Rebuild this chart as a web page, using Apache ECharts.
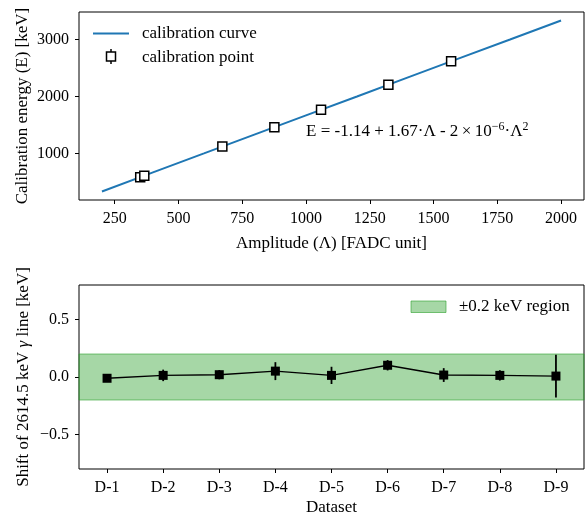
<!DOCTYPE html>
<html>
<head>
<meta charset="utf-8">
<script src="https://cdn.jsdelivr.net/npm/echarts@6/dist/echarts.min.js"></script>
<style>html,body{margin:0;padding:0;background:#fff}#c{width:585px;height:517px}</style>
</head>
<body>
<div id="c"></div>
<script>
// ---- Top panel data ----
var curveX = [200, 400, 600, 800, 1000, 1200, 1400, 1600, 1800, 2000];
var curveY = [333, 667, 1000, 1334, 1667, 1999, 2333, 2666, 2997, 3331];
var pointX = [350, 366, 672, 876, 1059, 1323, 1569];
var pointY = [583, 609, 1120, 1461, 1764, 2204, 2615];
var topXTicks = [250, 500, 750, 1000, 1250, 1500, 1750, 2000];
var topYTicks = [1000, 2000, 3000];
// ---- Bottom panel data ----
var datasets = ['D-1', 'D-2', 'D-3', 'D-4', 'D-5', 'D-6', 'D-7', 'D-8', 'D-9'];
var shiftVals = [-0.011, 0.014, 0.02, 0.051, 0.014, 0.102, 0.017, 0.014, 0.008];
var shiftErr = [0.03, 0.05, 0.04, 0.078, 0.075, 0.045, 0.06, 0.045, 0.186];
var bandLow = -0.2, bandHigh = 0.2;
var botYTicks = [-0.5, 0, 0.5];

var FONT = 'Liberation Serif';
var FS = 16;   // tick labels
var FL = 17;   // axis names, legends

var chart = echarts.init(document.getElementById('c'), null, {renderer: 'canvas'});

function pairs(xs, ys) { return xs.map(function (x, i) { return [x, ys[i]]; }); }
var shiftPts = shiftVals.map(function (v, i) { return [i + 1, v]; });
var shiftErrData = shiftVals.map(function (v, i) { return [i + 1, v - shiftErr[i], v + shiftErr[i]]; });

function fmtMinus(v) {
  var s = Number(v).toFixed(1);
  return s.replace('-', '\u2212');
}

var axisCommon = {
  axisLine: {show: false, onZero: false},
  splitLine: {show: false},
  nameMoveOverlap: false,
  axisTick: {show: true, inside: false, length: 4, lineStyle: {color: '#000', width: 1}},
  axisLabel: {color: '#000', fontFamily: FONT, fontSize: FS, margin: 10.5},
  nameTextStyle: {color: '#000', fontFamily: FONT, fontSize: FL}
};

function merge(a, b) {
  var o = JSON.parse(JSON.stringify(a));
  for (var k in b) {
    if (b[k] && typeof b[k] === 'object' && !Array.isArray(b[k]) && o[k] && typeof o[k] === 'object') {
      for (var kk in b[k]) o[k][kk] = b[k][kk];
    } else o[k] = b[k];
  }
  return o;
}

var option = {
  animation: false,
  backgroundColor: '#fff',
  grid: [
    {left: 79, right: 1, top: 12, height: 188, show: true, borderColor: '#000', borderWidth: 1, backgroundColor: 'transparent'},
    {left: 79, right: 1, top: 285, height: 188, show: true, borderColor: '#000', borderWidth: 1, backgroundColor: 'transparent'}
  ],
  xAxis: [
    merge(axisCommon, {
      type: 'value', gridIndex: 0, min: 110, max: 2090,
      name: 'Amplitude (\u039B) [FADC unit]', nameLocation: 'middle', nameGap: 35,
      axisTick: {customValues: topXTicks},
      axisLabel: {customValues: topXTicks, formatter: function (v) { return String(v); }}
    }),
    merge(axisCommon, {
      type: 'value', gridIndex: 1, min: 0.5, max: 9.5,
      name: 'Dataset', nameLocation: 'middle', nameGap: 30,
      axisTick: {customValues: [1, 2, 3, 4, 5, 6, 7, 8, 9]},
      axisLabel: {customValues: [1, 2, 3, 4, 5, 6, 7, 8, 9], formatter: function (v) { return datasets[Math.round(v) - 1] || ''; }}
    })
  ],
  yAxis: [
    merge(axisCommon, {
      type: 'value', gridIndex: 0, min: 183, max: 3480,
      name: 'Calibration energy (E) [keV]', nameLocation: 'middle', nameGap: 48,
      axisTick: {customValues: topYTicks},
      axisLabel: {customValues: topYTicks, margin: 10, formatter: function (v) { return String(v); }}
    }),
    merge(axisCommon, {
      type: 'value', gridIndex: 1, min: -0.8, max: 0.8,
      name: '{n|Shift of 2614.5 keV }{i|\u03B3}{n| line [keV]}', nameLocation: 'middle', nameGap: 47,
      nameTextStyle: {rich: {
        n: {fontFamily: FONT, fontSize: FL, color: '#000'},
        i: {fontFamily: FONT, fontSize: FL, color: '#000', fontStyle: 'italic'}
      }},
      axisTick: {customValues: botYTicks},
      axisLabel: {customValues: botYTicks, margin: 10, formatter: fmtMinus}
    })
  ],
  series: [
    {
      name: 'calibration curve', type: 'line', xAxisIndex: 0, yAxisIndex: 0,
      data: pairs(curveX, curveY), showSymbol: false, symbol: 'none',
      lineStyle: {color: '#1f77b4', width: 2}, z: 2
    },
    {
      name: 'calibration point', type: 'scatter', xAxisIndex: 0, yAxisIndex: 0,
      data: pairs(pointX, pointY), symbol: 'rect', symbolSize: 9,
      itemStyle: {color: '#fff', borderColor: '#000', borderWidth: 1.5, opacity: 1}, z: 5
    },
    {
      name: 'band', type: 'line', xAxisIndex: 1, yAxisIndex: 1, data: [], z: 1,
      markArea: {
        silent: true,
        itemStyle: {color: 'rgba(44,160,44,0.42)', borderColor: 'rgba(44,160,44,0.6)', borderWidth: 1},
        data: [[{xAxis: 0.5, yAxis: bandLow}, {xAxis: 9.5, yAxis: bandHigh}]]
      }
    },
    {
      name: 'shiftErr', type: 'custom', xAxisIndex: 1, yAxisIndex: 1, z: 4,
      data: shiftErrData,
      encode: {x: 0, y: [1, 2]},
      renderItem: function (params, api) {
        var p1 = api.coord([api.value(0), api.value(1)]);
        var p2 = api.coord([api.value(0), api.value(2)]);
        return {type: 'line', shape: {x1: p1[0], y1: p1[1], x2: p2[0], y2: p2[1]}, style: {stroke: '#000', lineWidth: 1.8}};
      }
    },
    {
      name: 'shift', type: 'line', xAxisIndex: 1, yAxisIndex: 1,
      data: shiftPts, symbol: 'rect', symbolSize: 9, showSymbol: true,
      lineStyle: {color: '#000', width: 1.4}, itemStyle: {color: '#000'}, z: 5
    }
  ],
  graphic: [
    // top legend
    {type: 'line', shape: {x1: 93, y1: 33.5, x2: 129, y2: 33.5}, style: {stroke: '#1f77b4', lineWidth: 2}},
    {type: 'text', left: 142, top: 25, style: {text: 'calibration curve', font: FL + 'px "' + FONT + '"', fill: '#000'}},
    {type: 'line', shape: {x1: 111, y1: 49, x2: 111, y2: 64}, style: {stroke: '#000', lineWidth: 1.5}},
    {type: 'rect', shape: {x: 106.5, y: 52, width: 9, height: 9}, style: {fill: '#fff', stroke: '#000', lineWidth: 1.5}},
    {type: 'text', left: 142, top: 49, style: {text: 'calibration point', font: FL + 'px "' + FONT + '"', fill: '#000'}},
    // equation
    {type: 'text', left: 306, top: 121, style: {
      text: '{n|E = -1.14 + 1.67\u00B7\u039B - 2\u2009\u00D7\u200910}{s|\u22126}{n|\u00B7\u039B}{s|2}',
      rich: {
        n: {fontFamily: FONT, fontSize: FL, lineHeight: 21, fill: '#000'},
        s: {fontFamily: FONT, fontSize: 12, lineHeight: 13, verticalAlign: 'top', fill: '#000'}
      }
    }},
    // bottom legend
    {type: 'rect', shape: {x: 411, y: 301, width: 35, height: 11.5}, style: {fill: 'rgba(44,160,44,0.42)', stroke: 'rgba(44,160,44,0.6)', lineWidth: 1}},
    {type: 'text', left: 459, top: 298, style: {text: '\u00B10.2 keV region', font: FL + 'px "' + FONT + '"', fill: '#000'}}
  ]
};
chart.setOption(option);
</script>
</body>
</html>
